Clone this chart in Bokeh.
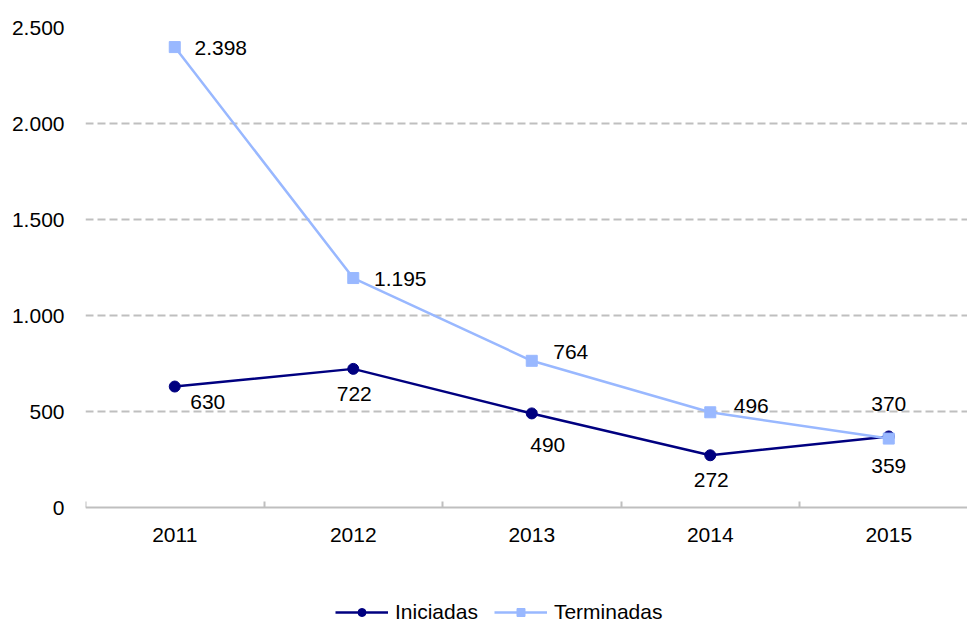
from bokeh.plotting import figure
from bokeh.models import (ColumnDataSource, FixedTicker, Legend, LegendItem, Range1d)
from bokeh.embed import file_html
from bokeh.resources import INLINE
from bokeh.core.properties import value

years = [2011, 2012, 2013, 2014, 2015]
iniciadas = [630, 722, 490, 272, 370]
terminadas = [2398, 1195, 764, 496, 359]
y_ticks = [0, 500, 1000, 1500, 2000, 2500]

def fmt(v):
    return f"{v:,}".replace(",", ".")

# label offsets (styling, screen px)
ini_dx = [33, 1, 16, 1, 0]
ini_dy = [15, 25, 32, 25, -32]
ter_dx = [46, 47, 39, 41, 0]
ter_dy = [1, 1, -9, -6, 27]

FONT = "Liberation Sans"
FS = "21px"
DARK = "#000080"
LIGHT = "#99B8FF"
GRID = "#BFBFBF"

src_i = ColumnDataSource(dict(x=years, y=iniciadas, lab=[fmt(v) for v in iniciadas], dx=ini_dx, dy=ini_dy))
src_t = ColumnDataSource(dict(x=years, y=terminadas, lab=[fmt(v) for v in terminadas], dx=ter_dx, dy=ter_dy))

# frame spans 27..624 px vertically; 2500 units = 480 px -> bottom extends below 0 for the legend
PX_PER_UNIT = 480 / 2500
p = figure(width=967, height=624, output_backend="svg", toolbar_location=None,
           x_range=Range1d(2010.5, 2010.5 + 882 / 178.5),
           y_range=Range1d(-(624 - 507) / PX_PER_UNIT, 2500),
           min_border_left=85, min_border_right=0, min_border_top=27, min_border_bottom=0)
p.outline_line_color = None
p.background_fill_color = "white"

# grid
p.xgrid.visible = False
p.ygrid.ticker = FixedTicker(ticks=y_ticks[1:])
p.ygrid.grid_line_color = GRID
p.ygrid.grid_line_width = 2
p.ygrid.grid_line_dash = "8 4"

# y axis
p.yaxis.ticker = FixedTicker(ticks=y_ticks)
p.yaxis.major_label_overrides = {t: fmt(t) for t in y_ticks}
p.yaxis.axis_line_color = None
p.yaxis.major_tick_line_color = None
p.yaxis.minor_tick_line_color = None
p.yaxis.major_label_text_font = FONT
p.yaxis.major_label_text_font_size = FS
p.yaxis.major_label_text_color = "black"
p.yaxis.major_label_standoff = 15

# x axis, pinned at y = 0
p.xaxis.fixed_location = 0
p.xaxis.ticker = FixedTicker(ticks=years, minor_ticks=[y - 0.5 for y in years] + [years[-1] + 0.5])
p.xaxis.major_label_overrides = {y: str(y) for y in years}
p.xaxis.axis_line_color = GRID
p.xaxis.axis_line_width = 2
p.xaxis.major_tick_line_color = None
p.xaxis.minor_tick_line_color = GRID
p.xaxis.minor_tick_line_width = 2
p.xaxis.minor_tick_in = 6
p.xaxis.minor_tick_out = 0
p.xaxis.major_label_text_font = FONT
p.xaxis.major_label_text_font_size = FS
p.xaxis.major_label_text_color = "black"
p.xaxis.major_label_standoff = 14

li = p.line("x", "y", source=src_i, line_color=DARK, line_width=2.5)
si = p.scatter("x", "y", source=src_i, marker="circle", size=11, fill_color=DARK, line_color=DARK)
lt = p.line("x", "y", source=src_t, line_color=LIGHT, line_width=2.5)
st = p.scatter("x", "y", source=src_t, marker="square", size=11, fill_color=LIGHT, line_color=LIGHT)

for src in (src_i, src_t):
    p.text("x", "y", text="lab", source=src, x_offset="dx", y_offset="dy",
           text_align="center", text_baseline="middle",
           text_font=value(FONT), text_font_size=FS, text_color="black")

legend = Legend(items=[LegendItem(label="Iniciadas", renderers=[li, si]),
                       LegendItem(label="Terminadas", renderers=[lt, st])],
                orientation="horizontal", location=(250, 0),
                glyph_width=53, glyph_height=20, label_height=20, label_standoff=7, spacing=16,
                label_text_font=FONT, label_text_font_size=FS, label_text_color="black",
                border_line_color=None, background_fill_alpha=0,
                padding=0, margin=0)
p.add_layout(legend, "center")

open("out.html", "w").write(file_html(p, INLINE))
